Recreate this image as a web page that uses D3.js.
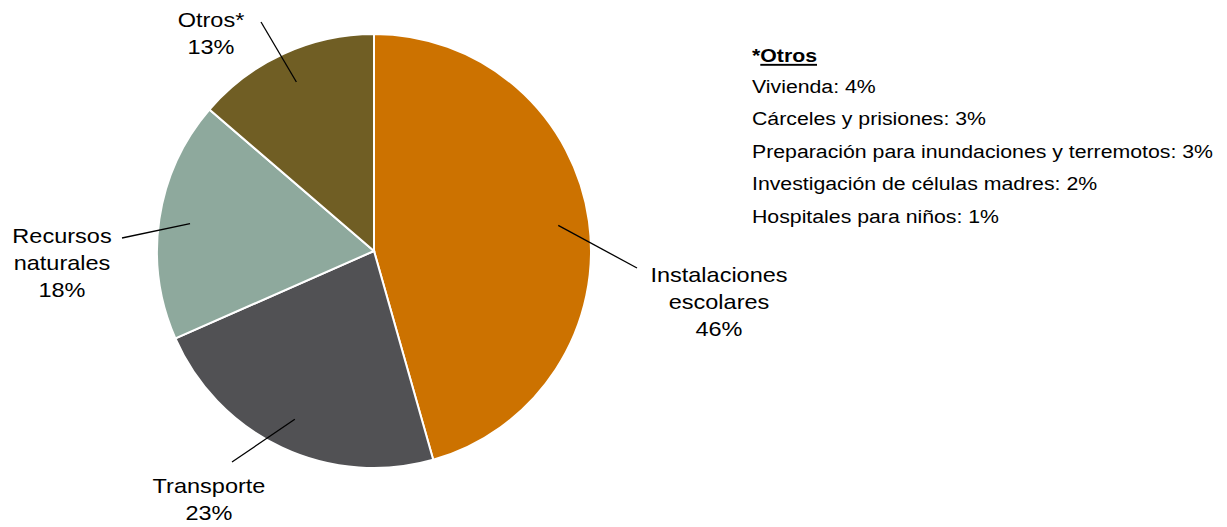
<!DOCTYPE html>
<html lang="es">
<head>
  <meta charset="UTF-8">
  <title>Distribución de fondos</title>
  <style>
    body { margin: 0; background: #fff; font-family: "Liberation Sans", Arial, sans-serif; }
    svg { display: block; }
    .lbl { font-size: 21px; fill: #000; text-anchor: middle; }
    .note { font-size: 19px; fill: #000; }
  </style>
</head>
<body>
  <svg id="chart" width="1227" height="527"></svg>
  <script src="https://d3js.org/d3.v7.min.js"></script>
  <script>
    // slices, clockwise from 12 o'clock
    const categories = ["Instalaciones escolares", "Transporte", "Recursos naturales", "Otros*"];
    const values = [45.6, 22.8, 17.9, 13.7];
    const pctLabels = ["46%", "23%", "18%", "13%"];
    const labelLines = [["Instalaciones", "escolares"], ["Transporte"], ["Recursos", "naturales"], ["Otros*"]];
    const colors = ["#cc7200", "#515154", "#8ea99d", "#705e24"];

    // breakdown of "Otros"
    const otrosTitle = "Otros";
    const otrosItems = ["Vivienda", "Cárceles y prisiones", "Preparación para inundaciones y terremotos",
                        "Investigación de células madres", "Hospitales para niños"];
    const otrosValues = [4, 3, 3, 2, 1];

    const svg = d3.select("#chart");
    const cx = 374, cy = 251, radius = 217;
    const stretch = 1.12; // text in the source is a bit wider than it is tall

    const pie = d3.pie().sort(null).value(d => d);
    const arcs = pie(values);
    const arc = d3.arc().innerRadius(0).outerRadius(radius);

    const g = svg.append("g").attr("transform", `translate(${cx},${cy})`);

    g.selectAll("path.slice")
      .data(arcs)
      .join("path")
        .attr("class", "slice")
        .attr("d", arc)
        .attr("fill", (d, i) => colors[i])
        .attr("stroke", "#fff")
        .attr("stroke-width", 2);

    // label placement (text block centre x, first baseline y) and leader end points
    const labelPos = [
      { x: 719, y: 282, lx: 637, ly: 268 },
      { x: 209, y: 493, lx: 232, ly: 462 },
      { x: 62,  y: 243, lx: 122, ly: 238 },
      { x: 211, y: 27,  lx: 261, ly: 22 }
    ];
    const lineH = 27;
    const innerArc = d3.arc().innerRadius(186).outerRadius(186);

    arcs.forEach((d, i) => {
      const [sx, sy] = innerArc.centroid(d);
      const p = labelPos[i];
      svg.append("line")
        .attr("x1", cx + sx).attr("y1", cy + sy)
        .attr("x2", p.lx).attr("y2", p.ly)
        .attr("stroke", "#000").attr("stroke-width", 1.3);

      const lines = labelLines[i].concat([pctLabels[i]]);
      const t = svg.append("text").attr("class", "lbl")
        .attr("transform", `translate(${p.x},${p.y}) scale(${stretch},1)`);
      lines.forEach((s, k) => {
        t.append("tspan").attr("x", 0).attr("y", k * lineH).text(s);
      });
    });

    // note block on the right
    const nx = 752;
    const note = svg.append("g").attr("transform", `translate(${nx},0) scale(${stretch},1)`);
    note.append("text")
      .attr("class", "note")
      .attr("x", 0).attr("y", 62)
      .attr("font-weight", "bold")
      .html(`*<tspan text-decoration="underline">${otrosTitle}</tspan>`);

    note.selectAll("text.item")
      .data(otrosItems)
      .join("text")
        .attr("class", "note item")
        .attr("x", 0)
        .attr("y", (d, i) => 93 + i * 32.5)
        .text((d, i) => `${d}: ${otrosValues[i]}%`);
  </script>
</body>
</html>
